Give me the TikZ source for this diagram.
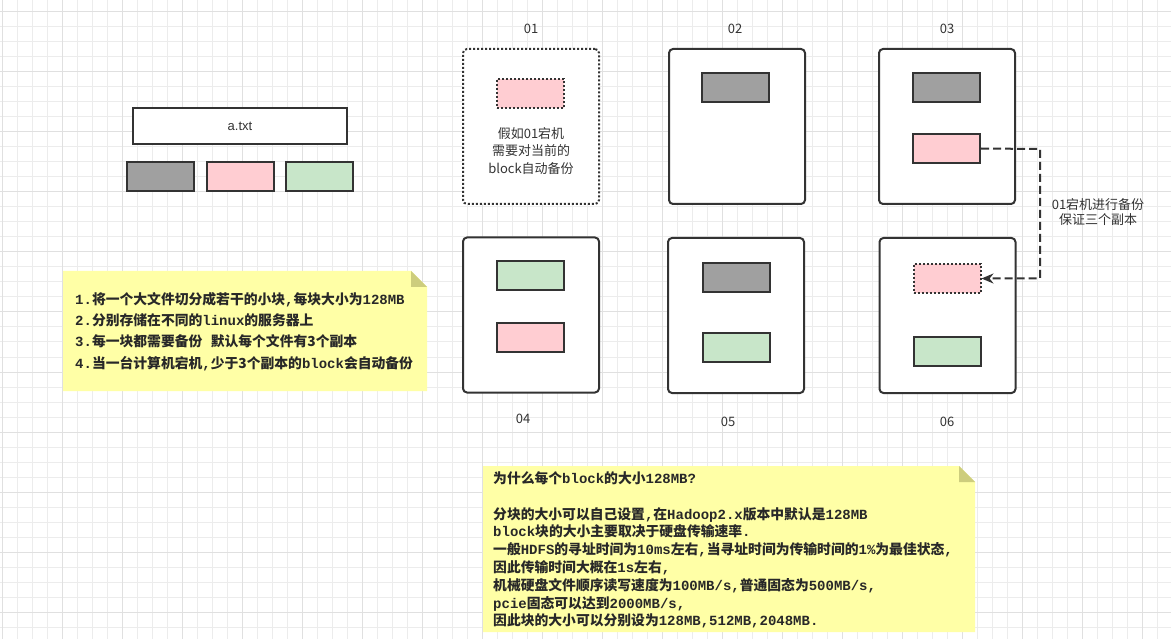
\documentclass[tikz,border=0pt]{standalone}
\usepackage{fontspec}
\setmainfont{Liberation Sans}
\setmonofont{Liberation Mono}
\newfontfamily\cjk{Noto Sans CJK SC}
\usetikzlibrary{arrows.meta, positioning}
\definecolor{gridminor}{RGB}{236,236,236}
\definecolor{gridmajor}{RGB}{224,224,224}
\definecolor{linedark}{RGB}{51,51,51}
\definecolor{notetext}{RGB}{40,40,40}
\definecolor{blkgray}{RGB}{160,160,160}
\definecolor{blkpink}{RGB}{255,205,210}
\definecolor{blkgreen}{RGB}{200,230,201}
\definecolor{noteyellow}{RGB}{255,255,166}
\definecolor{notefold}{RGB}{205,205,125}
\newcommand{\zh}[1]{{\cjk\bfseries\fontsize{13.8}{17}\selectfont #1}}

\begin{document}
\begin{tikzpicture}[
    x=1pt, y=-1pt,
    every node/.style={inner sep=0pt},
    server/.style={draw=linedark, line width=2pt, fill=white, rounded corners=4pt,
        minimum width=136pt, minimum height=155pt},
    blk/.style={draw=linedark, line width=2pt, minimum width=67pt, minimum height=29pt},
    lost/.style={dash pattern=on 2pt off 2pt},
    lbl/.style={text=linedark, font=\cjk\fontsize{13}{15}\selectfont, align=center},
    notebody/.style={fill=noteyellow},
    notetxt/.style={anchor=north west, align=left, text=notetext,
        font=\ttfamily\bfseries\fontsize{14}{17.8}\selectfont}
]
\fill[white] (0,0) rectangle (1171,639);
\useasboundingbox (0,0) rectangle (1171,639);

% grid
\foreach \gx in {2,17,...,1171} \draw[gridminor, line width=1pt] (\gx,0) -- (\gx,639);
\foreach \gy in {12,27,...,639} \draw[gridminor, line width=1pt] (0,\gy) -- (1171,\gy);
\foreach \gx in {2,62,...,1171} \draw[gridmajor, line width=1pt] (\gx,0) -- (\gx,639);
\foreach \gy in {12,72,...,639} \draw[gridmajor, line width=1pt] (0,\gy) -- (1171,\gy);

% file and its blocks
\node[draw=linedark, line width=2pt, fill=white, minimum width=214pt, minimum height=36pt,
    text=linedark, font=\fontsize{13}{15}\selectfont] (file) at (240,126) {a.txt};
\node[blk, fill=blkgray] (fgray) at (160.5,177) {};
\node[blk, fill=blkpink] (fpink) at (240.5,177) {};
\node[blk, fill=blkgreen] (fgreen) at (319.5,177) {};

% servers
\node[server, lost] (s01) at (531,126.5) {};
\node[server] (s02) at (737,126.5) {};
\node[server] (s03) at (947,126.5) {};
\node[server] (s04) at (531,315) {};
\node[server] (s05) at (736,315.5) {};
\node[server] (s06) at (947.5,315.5) {};

\node[lbl] (l01) at (531,29) {01};
\node[lbl] (l02) at (735,29) {02};
\node[lbl] (l03) at (947,29) {03};
\node[lbl] (l04) at (523,419) {04};
\node[lbl] (l05) at (728,422) {05};
\node[lbl] (l06) at (947,422) {06};

% blocks on the servers
\node[blk, lost, fill=blkpink] (p01) at (530.5,93.5) {};
\node[lbl, font=\cjk\fontsize{13}{17.5}\selectfont] (t01) at (531,151)
    {假如01宕机\\需要对当前的\\block自动备份};
\node[blk, fill=blkgray] (g02) at (735.5,87.5) {};
\node[blk, fill=blkgray] (g03) at (946.5,87.5) {};
\node[blk, fill=blkpink] (p03) at (946.5,148.5) {};
\node[blk, fill=blkgreen] (n04) at (530.5,276) {};
\node[blk, fill=blkpink] (p04) at (530.5,337.5) {};
\node[blk, fill=blkgray] (g05) at (736.5,278) {};
\node[blk, fill=blkgreen] (n05) at (736.5,347.5) {};
\node[blk, lost, fill=blkpink] (p06) at (947,278.5) {};
\node[blk, fill=blkgreen] (n06) at (947,351.5) {};

% backup arrow
\coordinate (turn) at (1040,149);
\draw[linedark, line width=2pt, dash pattern=on 8pt off 4pt, -{Stealth[length=12pt, width=10pt]}]
    (p03.east) -- (turn) |- (p06.east);
\node[lbl] (backup) at (1098,212.5) {01宕机进行备份\\保证三个副本};

% note 1
\fill[noteyellow] (63,271) -- (411,271) -- (427,287) -- (427,391) -- (63,391) -- cycle;
\fill[notefold] (411,271) -- (411,287) -- (427,287) -- cycle;
\node[notetxt, font=\ttfamily\bfseries\fontsize{14}{21.3}\selectfont] (steps) at (75,292) {%
1.\zh{将一个大文件切分成若干的小块},\zh{每块大小为}128MB\\
2.\zh{分别存储在不同的}linux\zh{的服务器上}\\
3.\zh{每一块都需要备份} \zh{默认每个文件有3个副本}\\
4.\zh{当一台计算机宕机},\zh{少于3个副本的}block\zh{会自动备份}};

% note 2
\fill[noteyellow] (483,466) -- (959,466) -- (975,482) -- (975,632) -- (483,632) -- cycle;
\fill[notefold] (959,466) -- (959,482) -- (975,482) -- cycle;
\node[notetxt] (why) at (493,471.5) {%
\zh{为什么每个}block\zh{的大小}128MB?\\
\mbox{}\\
\zh{分块的大小可以自己设置},\zh{在}Hadoop2.x\zh{版本中默认是}128MB\\
block\zh{块的大小主要取决于硬盘传输速率}.\\
\zh{一般}HDFS\zh{的寻址时间为}10ms\zh{左右},\zh{当寻址时间为传输时间的}1\%\zh{为最佳状态},\\
\zh{因此传输时间大概在}1s\zh{左右},\\
\zh{机械硬盘文件顺序读写速度为}100MB/s,\zh{普通固态为}500MB/s,\\
pcie\zh{固态可以达到}2000MB/s,\\
\zh{因此块的大小可以分别设为}128MB,512MB,2048MB.};
\end{tikzpicture}
\end{document}
